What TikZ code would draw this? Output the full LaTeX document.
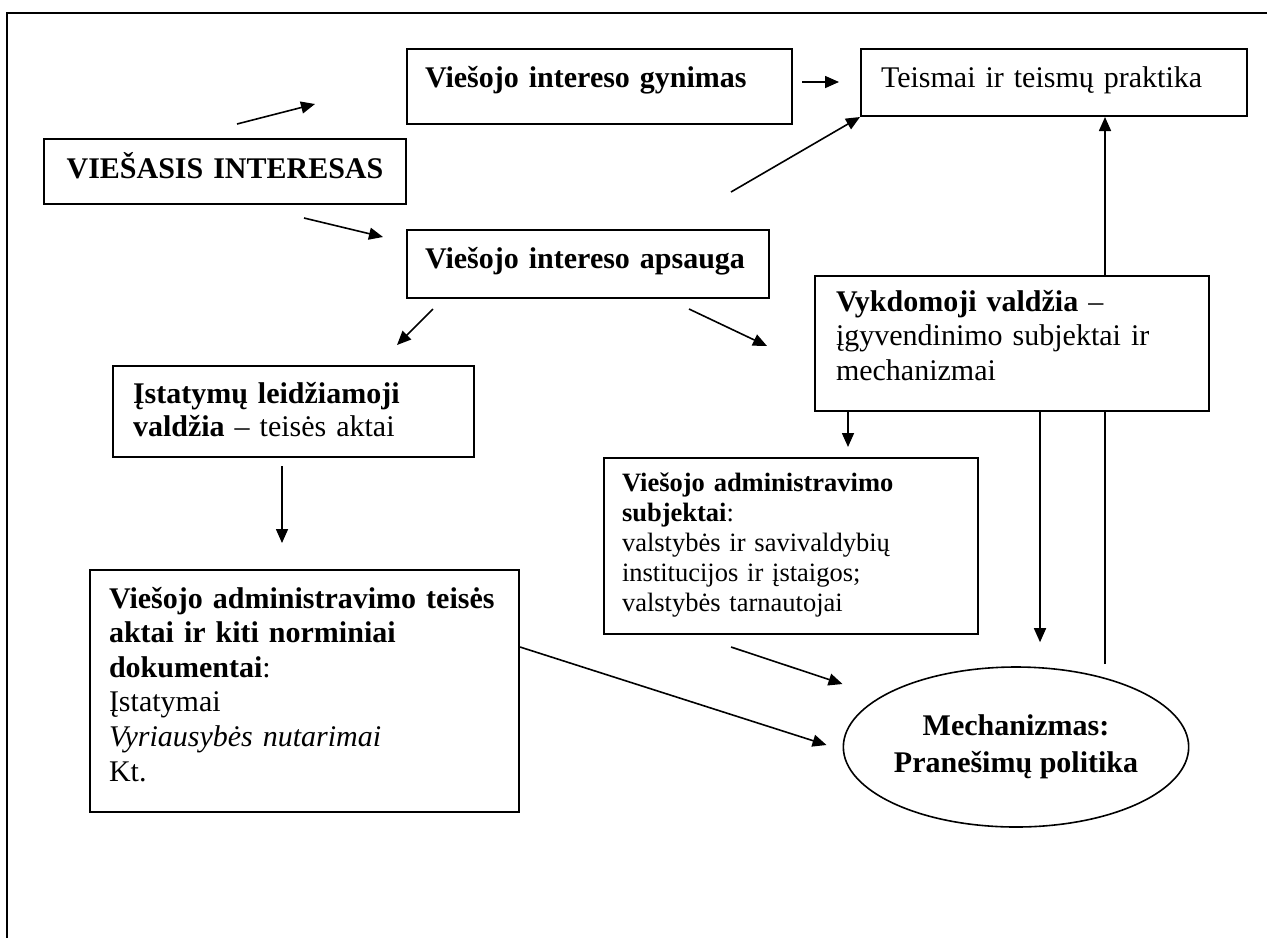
\documentclass[tikz,border=0pt]{standalone}
\usepackage{fontspec}
\setmainfont{Liberation Serif}
\usetikzlibrary{shapes.geometric, arrows.meta, calc}
\tikzset{
pbox/.style={draw, line width=1pt, anchor=north west, inner ysep=0pt, inner xsep=10pt,
  align=left, font=\fontsize{15}{17.3}\selectfont},
arr/.style={line width=0.8pt, -{Triangle[length=7pt,width=6pt]}},
plain/.style={line width=0.8pt}
}
\begin{document}
\begin{tikzpicture}[x=0.5pt,y=-0.5pt]
\useasboundingbox (0,0) rectangle (1267,938);
\draw[plain] (1267,13) -- (7,13) -- (7,938);

\node[pbox, align=center, text width=161pt, text height=19.5pt, text depth=13pt] (vi) at (43,138) {\textbf{VIEŠASIS INTERESAS}};
\node[pbox, inner xsep=9pt, text width=174.5pt, text height=19pt, text depth=18.5pt] (gyn) at (406,48) {\textbf{Viešojo intereso gynimas}};
\node[pbox, text width=173pt, text height=19pt, text depth=14.5pt] (tei) at (860,48) {Teismai ir teismų praktika};
\node[pbox, inner xsep=9pt, text width=163pt, text height=19pt, text depth=15pt] (aps) at (406,229) {\textbf{Viešojo intereso apsauga}};
\node[pbox, inner xsep=10.5pt, text width=176pt, text height=17.5pt, text depth=50pt] (vyk) at (814,275)
  {\textbf{Vykdomoji valdžia} –\\ įgyvendinimo subjektai ir\\ mechanizmai};
\node[pbox, text width=160.5pt, text height=18.5pt, text depth=27pt, font=\fontsize{15}{16.5}\selectfont] (ist) at (112,365)
  {\textbf{Įstatymų leidžiamoji}\\ \textbf{valdžia} – teisės aktai};
\node[pbox, inner xsep=9pt, text width=169pt, text height=16.5pt, text depth=71.5pt, font=\fontsize{13.25}{15}\selectfont] (sub) at (603,457)
  {\textbf{Viešojo administravimo}\\ \textbf{subjektai}:\\ valstybės ir savivaldybių\\ institucijos ir įstaigos;\\ valstybės tarnautojai};
\node[pbox, inner xsep=9.5pt, text width=195.5pt, text height=19pt, text depth=102pt] (akt) at (89,569)
  {\textbf{Viešojo administravimo teisės}\\ \textbf{aktai ir kiti norminiai}\\ \textbf{dokumentai}:\\ Įstatymai\\ \textit{Vyriausybės nutarimai}\\ Kt.};
\node[draw, ellipse, line width=0.8pt, minimum width=171pt, minimum height=80pt, inner sep=0pt, align=center,
  font=\fontsize{15}{18.5}\selectfont\bfseries] (mech) at (1016,747) {Mechanizmas:\\ Pranešimų politika};

\draw[arr] ($(vi.north)+(12,-14)$) -- ($(gyn.west)+(-91,17.5)$);
\draw[arr] ($(vi.south)+(79,13)$) -- ($(aps.north west)+(-23,8)$);
\draw[arr] ($(gyn.east)+(9,-4.5)$) -- ($(tei.west)+(-21,-0.5)$);
\draw[arr] ($(aps.north east)+(-39,-37)$) -- (tei.south west);
\draw[arr] ($(aps.south west)+(27,10)$) -- ($(ist.north east)+(-78,-20)$);
\draw[arr] ($(aps.south east)+(-81,10)$) -- ($(vyk.west)+(-47,2.5)$);
\draw[arr] ($(ist.south)+(-11.5,8)$) -- ($(akt.north)+(-22.5,-26)$);
\coordinate (h0) at ($(vyk.south west)+(34,0)$);
\draw[arr] (h0) -- ($(h0 |- sub.north)+(0,-10)$);
\draw[arr] ($(vyk.south west)+(226,0)$) -- ($(mech.north)+(24,-24)$);
\coordinate (j0) at ($(mech.north)+(89,-2)$);
\draw[plain] (j0) -- (j0 |- vyk.south);
\draw[arr] (j0 |- vyk.north) -- (j0 |- tei.south);
\draw[arr] ($(sub.south)+(-60,12)$) -- ($(mech.west)+(0,-63)$);
\draw[arr] ($(akt.north east)+(0,78)$) -- ($(mech.west)+(-16,-2)$);
\end{tikzpicture}
\end{document}
